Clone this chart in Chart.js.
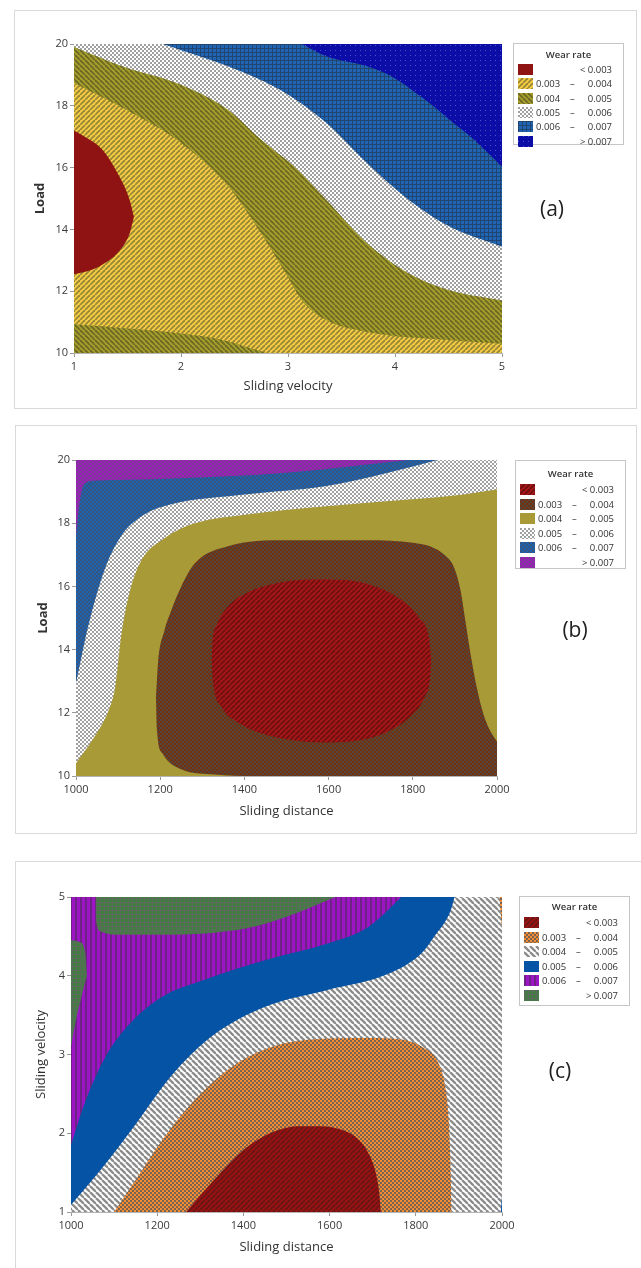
<!DOCTYPE html>
<html>
<head>
<meta charset="utf-8">
<script src="https://cdn.jsdelivr.net/npm/chart.js@4.4.1/dist/chart.umd.min.js"></script>
<style>
  body { margin: 0; background: #fff; font-family: "Open Sans", sans-serif; color: #333; }
  #page { position: relative; width: 641px; height: 1268px; overflow: hidden; }
  .frame { position: absolute; border: 1px solid #d9d9d9; box-sizing: border-box; }
  canvas.plot { position: absolute; left: 0; }
  .legend { position: absolute; border: 1px solid #c6c6c6; box-sizing: border-box; background: #fff; font-size: 9.5px; color: #333; }
  .legend .ttl { position: absolute; left: 0; right: 0; text-align: center; line-height: 12px; font-weight: 600; }
  .legend .row { position: absolute; left: 4px; right: 11px; height: 11px; }
  .legend .row canvas { position: absolute; left: 0; top: 0; }
  .legend .row span { position: absolute; top: -1px; line-height: 13px; white-space: pre; }
  .tag { position: absolute; font-size: 21px; transform: translate(-50%, -50%); color: #222; }
</style>
</head>
<body>
<div id="page">
  <div class="frame" style="left:14px;top:10px;width:623px;height:399px"></div>
  <div class="frame" style="left:15px;top:425px;width:622px;height:409px"></div>
  <div class="frame" style="left:15px;top:861px;width:640px;height:420px"></div>
  <canvas id="chartA" class="plot" width="641" height="420" style="top:0"></canvas>
  <canvas id="chartB" class="plot" width="641" height="425" style="top:415px"></canvas>
  <canvas id="chartC" class="plot" width="641" height="418" style="top:850px"></canvas>
  <div class="tag" style="left:552px;top:208px">(a)</div>
  <div class="tag" style="left:575px;top:629px">(b)</div>
  <div class="tag" style="left:560px;top:1070px">(c)</div>
</div>
<script>
// legend text
const legendTitle = 'Wear rate';
const wearLow = ['', '0.003', '0.004', '0.005', '0.006', ''];
const wearHigh = ['< 0.003', '0.004', '0.005', '0.006', '0.007', '> 0.007'];

// (a) Load vs Sliding velocity
const aX = [1, 5];
const aY = [10, 20];
const aBottomBand = [[1, 10.93], [1.5, 10.79], [2, 10.63], [2.4, 10.41], [2.65, 10.15], [2.8, 10.0]];
const aYellowTop = [[1, 18.74], [1.5, 17.85], [2, 16.8], [2.44, 15.4], [2.75, 13.87], [2.98, 12.57], [3.13, 11.7], [3.36, 11.06], [3.74, 10.68], [4.51, 10.41], [5, 10.3]];
const aOliveTop = [[1, 19.9], [1.45, 19.28], [2, 18.68], [2.44, 17.87], [2.75, 16.9], [3.06, 16.03], [3.36, 14.95], [3.74, 13.55], [4.13, 12.57], [4.51, 12.03], [5, 11.7]];
const aWhiteTop = [[1.83, 20], [2, 19.8], [2.44, 19.28], [2.98, 18.41], [3.36, 17.44], [3.74, 16.14], [4.13, 14.95], [4.51, 14.09], [5, 13.44]];
const aBlueTop = [[3.13, 20], [3.36, 19.6], [3.74, 19.28], [3.97, 18.95], [4.28, 18.2], [4.51, 17.55], [4.74, 16.9], [5, 16.03]];
const aRedTop = [[1, 17.2], [1.1, 17.0], [1.26, 16.6], [1.41, 15.8], [1.52, 14.95], [1.56, 14.4]];
const aRedBottom = [[1, 12.55], [1.13, 12.65], [1.26, 12.85], [1.41, 13.25], [1.52, 13.87], [1.56, 14.4]];

// (b) Load vs Sliding distance
const bX = [1000, 2000];
const bY = [10, 20];
const bWhiteBottom = [[1000, 10.4], [1049, 11.35], [1078, 12.1], [1093, 12.8], [1107, 14.4], [1127, 15.8], [1156, 16.84], [1205, 17.48], [1273, 17.96], [1400, 18.27], [1595, 18.54], [1790, 18.75], [1888, 18.86], [2000, 19.07]];
const bBlueBottom = [[1000, 12.94], [1029, 14.74], [1068, 16.53], [1107, 17.59], [1156, 18.22], [1224, 18.59], [1400, 18.91], [1595, 19.18], [1741, 19.6], [1859, 20]];
const bPurpleBottom = [[1000, 17.6], [1008, 18.6], [1020, 19.25], [1050, 19.35], [1200, 19.4], [1500, 19.6], [1790, 20]];
const bBrownTop = [[1190, 12.5], [1195, 13.6], [1210, 14.6], [1224, 15.16], [1250, 16.0], [1283, 16.74], [1361, 17.27], [1498, 17.46], [1693, 17.46], [1800, 17.38], [1845, 17.25], [1875, 17.0], [1898, 16.6], [1913, 15.9], [1925, 14.9], [1938, 13.8], [1952, 12.8], [1968, 11.95], [1985, 11.4], [2000, 11.09]];
const bBrownBottom = [[1190, 12.5], [1192, 11.5], [1205, 10.72], [1254, 10.19], [1330, 10.05], [1420, 10], [2000, 10]];
const bRedTop = [[1322, 13.6], [1324, 14.2], [1335, 14.8], [1360, 15.35], [1400, 15.75], [1460, 16.05], [1560, 16.22], [1640, 16.2], [1710, 16.0], [1770, 15.6], [1815, 15.0], [1838, 14.4], [1844, 13.7]];
const bRedBottom = [[1322, 13.6], [1326, 12.9], [1345, 12.2], [1390, 11.65], [1460, 11.27], [1540, 11.09], [1600, 11.06], [1670, 11.12], [1740, 11.4], [1795, 11.9], [1828, 12.5], [1841, 13.1], [1844, 13.7]];

// (c) Sliding velocity vs Sliding distance
const cX = [1000, 2000];
const cY = [1, 5];
const cBlueBottom = [[1000, 1.09], [1071, 1.55], [1148, 2.1], [1233, 2.73], [1329, 3.24], [1452, 3.61], [1595, 3.82], [1738, 4.03], [1814, 4.29], [1843, 4.5], [1881, 4.83], [1890, 5]];
const cPurpleBottom = [[1000, 1.85], [1033, 2.4], [1081, 2.98], [1138, 3.4], [1214, 3.74], [1310, 3.95], [1452, 4.2], [1595, 4.41], [1690, 4.62], [1767, 5]];
const cGreenTop = [[1057, 5], [1058, 4.7], [1070, 4.56], [1100, 4.52], [1214, 4.52], [1405, 4.6], [1500, 4.75], [1614, 5]];
const cGreenSideTop = [[1000, 4.45], [1020, 4.43], [1033, 4.3], [1037, 4.0]];
const cGreenSideBottom = [[1000, 3.1], [1012, 3.45], [1025, 3.75], [1037, 4.0]];
const cOrangeTop = [[1100, 1], [1148, 1.39], [1214, 1.93], [1290, 2.44], [1367, 2.82], [1452, 3.07], [1557, 3.19], [1690, 3.21], [1767, 3.19], [1820, 3.08], [1850, 2.92], [1868, 2.6], [1876, 2.2], [1881, 1.5], [1883, 1]];
const cRedTop = [[1267, 1], [1329, 1.39], [1405, 1.81], [1470, 2.02], [1530, 2.09], [1580, 2.09], [1630, 2.04], [1665, 1.93], [1690, 1.75], [1706, 1.52], [1715, 1.25], [1719, 1]];
const cOrangeCorner = [[1994, 5], [2000, 4.6]];
const cBlueCorner = [[1997, 1], [2000, 1.2]];

function pattern(bg, fg, kind, s) {
  const c = document.createElement('canvas');
  c.width = c.height = s;
  const g = c.getContext('2d');
  g.fillStyle = bg;
  g.fillRect(0, 0, s, s);
  g.fillStyle = fg;
  g.strokeStyle = fg;
  if (kind === 'check') {
    g.fillRect(0, 0, s / 2, s / 2);
    g.fillRect(s / 2, s / 2, s / 2, s / 2);
  } else if (kind === 'grid') {
    g.fillRect(0, 0, s, 1);
    g.fillRect(0, 0, 1, s);
  } else if (kind === 'dot') {
    g.fillRect(0, 0, 1, 1);
  } else if (kind === 'vert') {
    g.fillRect(0, 0, 2, s);
  } else if (kind === 'up' || kind === 'down') {
    g.lineWidth = s / 2.6;
    for (let k = -1; k <= 1; k++) {
      g.beginPath();
      if (kind === 'up') { g.moveTo(k * s, s); g.lineTo(k * s + s, 0); }
      else { g.moveTo(k * s, 0); g.lineTo(k * s + s, s); }
      g.stroke();
    }
  }
  return kind === 'solid' ? bg : g.createPattern(c, 'repeat');
}

const PA = [
  pattern('#8f1313', '', 'solid', 4),
  pattern('#f9cd45', '#9a8a35', 'up', 5),
  pattern('#a8a12e', '#6d6a24', 'down', 5),
  pattern('#ffffff', '#a0a0a0', 'check', 4),
  pattern('#2064b4', '#1f4570', 'grid', 4),
  pattern('#0c0ca6', '#5050cc', 'dot', 5)
];
const PB = [
  pattern('#a81818', '#701010', 'up', 5),
  pattern('#74300c', '#55463c', 'check', 4),
  pattern('#a89a36', '', 'solid', 4),
  pattern('#ffffff', '#a0a0a0', 'check', 4),
  pattern('#1f62b0', '#33557e', 'check', 4),
  pattern('#9b1cb8', '#7d3a96', 'check', 4)
];
const PC = [
  pattern('#9c1212', '#6a1616', 'up', 5),
  pattern('#f28d36', '#7a6450', 'check', 4),
  pattern('#ffffff', '#8c8c8c', 'down', 6),
  pattern('#0453a5', '', 'solid', 4),
  pattern('#9c14c4', '#6c2384', 'vert', 5),
  pattern('#437d43', '#5b6b5b', 'grid', 4)
];

function layers(list) {
  const n = list.length;
  return list.map((l, i) => ({
    data: l[0].map(p => ({ x: p[0], y: p[1] })),
    fill: l[1],
    backgroundColor: l[2] || 'transparent',
    borderColor: 'transparent',
    borderWidth: 0,
    pointRadius: 0,
    tension: 0.4,
    cubicInterpolationMode: 'monotone',
    order: n - i
  }));
}

function options(p) {
  const tickFont = { family: '"Open Sans", sans-serif', size: 11 };
  const titleFont = { family: '"Open Sans", sans-serif', size: 13 };
  return {
    responsive: false,
    animation: false,
    events: [],
    layout: { padding: { left: 0, top: p.top, right: 641 - p.right, bottom: p.h - p.bottom - 50 } },
    plugins: { legend: { display: false }, tooltip: { enabled: false } },
    scales: {
      x: {
        type: 'linear', min: p.xr[0], max: p.xr[1],
        ticks: { stepSize: p.xs, font: tickFont, color: '#3a3a3a', padding: 3, maxRotation: 0, callback: v => String(v) },
        grid: { drawOnChartArea: false, tickLength: 4, color: '#999' },
        border: { color: '#b5b5b5' },
        title: { display: true, text: p.xt, color: '#333', font: titleFont, padding: { top: 0, bottom: p.xpb } },
        afterFit: s => { s.height = 50; }
      },
      y: {
        type: 'linear', min: p.yr[0], max: p.yr[1],
        ticks: { stepSize: p.ys, font: tickFont, color: '#3a3a3a', padding: 2, callback: v => String(v) },
        grid: { drawOnChartArea: false, tickLength: 4, color: '#999' },
        border: { color: '#b5b5b5' },
        title: { display: true, text: p.yt, color: '#333', font: { ...titleFont, weight: p.yw }, padding: { top: p.ypt, bottom: 0 } },
        afterFit: s => { s.width = p.left; }
      }
    }
  };
}

const topEdge = (xr, yr) => [[xr[0], yr[1]], [xr[1], yr[1]]];

new Chart(document.getElementById('chartA'), {
  type: 'line',
  data: { datasets: layers([
    [topEdge(aX, aY), 'start', PA[1]],
    [aYellowTop, 'end', PA[2]],
    [aOliveTop, 'end', PA[3]],
    [aWhiteTop, 'end', PA[4]],
    [aBlueTop, 'end', PA[5]],
    [aBottomBand, 'start', PA[2]],
    [aRedBottom, false],
    [aRedTop, 6, PA[0]]
  ]) },
  options: options({ h: 420, left: 74, right: 502, top: 44, bottom: 353, xr: aX, yr: aY, xs: 1, ys: 2,
    xt: 'Sliding velocity', yt: 'Load', yw: 'bold', xpb: 9, ypt: 32 })
});

new Chart(document.getElementById('chartB'), {
  type: 'line',
  data: { datasets: layers([
    [topEdge(bX, bY), 'start', PB[2]],
    [bWhiteBottom, 'end', PB[3]],
    [bBlueBottom, 'end', PB[4]],
    [bPurpleBottom, 'end', PB[5]],
    [bBrownBottom, false],
    [bBrownTop, 4, PB[1]],
    [bRedBottom, false],
    [bRedTop, 6, PB[0]]
  ]) },
  options: options({ h: 425, left: 76, right: 497, top: 45, bottom: 361, xr: bX, yr: bY, xs: 200, ys: 2,
    xt: 'Sliding distance', yt: 'Load', yw: 'bold', xpb: 7, ypt: 35 })
});

new Chart(document.getElementById('chartC'), {
  type: 'line',
  data: { datasets: layers([
    [topEdge(cX, cY), 'start', PC[2]],
    [cBlueBottom, 'end', PC[3]],
    [cPurpleBottom, 'end', PC[4]],
    [cGreenTop, 'end', PC[5]],
    [cGreenSideBottom, false],
    [cGreenSideTop, 4, PC[5]],
    [cOrangeTop, 'start', PC[1]],
    [cRedTop, 'start', PC[0]],
    [cOrangeCorner, 'end', PC[1]],
    [cBlueCorner, 'start', PC[3]]
  ]) },
  options: options({ h: 418, left: 71, right: 502, top: 47, bottom: 362, xr: cX, yr: cY, xs: 200, ys: 1,
    xt: 'Sliding distance', yt: 'Sliding velocity', yw: 'normal', xpb: 7, ypt: 33 })
});

// legends
function legend(left, topPx, height, firstRow, gap, pats) {
  const box = document.createElement('div');
  box.className = 'legend';
  box.style.cssText = `left:${left}px;top:${topPx}px;width:111px;height:${height}px`;
  const t = document.createElement('div');
  t.className = 'ttl';
  t.style.top = (firstRow - gap - 6) + 'px';
  t.textContent = legendTitle;
  box.appendChild(t);
  wearHigh.forEach((hi, i) => {
    const row = document.createElement('div');
    row.className = 'row';
    row.style.top = (firstRow + i * gap - 5) + 'px';
    const sw = document.createElement('canvas');
    sw.width = 15; sw.height = 11;
    const g = sw.getContext('2d');
    g.fillStyle = pats[i];
    g.fillRect(0, 0, 15, 11);
    row.appendChild(sw);
    if (wearLow[i]) {
      const lo = document.createElement('span');
      lo.style.left = '18px';
      lo.textContent = wearLow[i];
      const dash = document.createElement('span');
      dash.style.left = '52px';
      dash.textContent = '–';
      row.appendChild(lo);
      row.appendChild(dash);
    }
    const sp = document.createElement('span');
    sp.style.right = '0';
    sp.textContent = hi;
    row.appendChild(sp);
    box.appendChild(row);
  });
  document.getElementById('page').appendChild(box);
}
legend(513, 43, 102, 25, 14.3, PA);
legend(515, 460, 109, 28, 14.6, PB);
legend(519, 896, 110, 25, 14.6, PC);
</script>
</body>
</html>
